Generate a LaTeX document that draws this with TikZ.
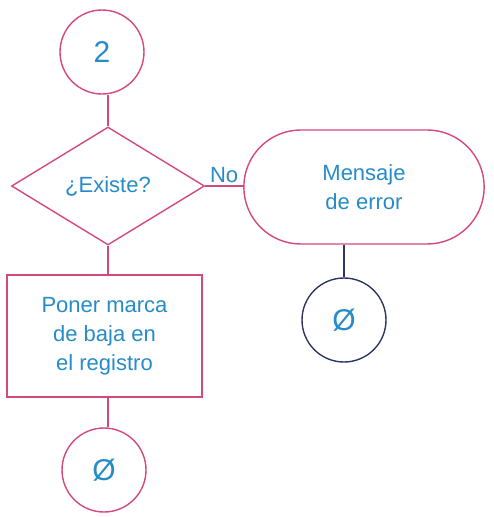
\documentclass[tikz,border=0pt]{standalone}
\usepackage{fontspec}
\setmainfont{Liberation Sans}
\usepackage{tikz}
\usetikzlibrary{shapes.geometric, shapes.misc, positioning}
\definecolor{flowpink}{RGB}{212,72,128}
\definecolor{flowblue}{RGB}{38,140,200}
\definecolor{flownavy}{RGB}{44,54,100}

\begin{document}
\begin{tikzpicture}[x=1pt, y=-1pt]
\tikzset{
    flowline/.style={draw=flowpink, line width=1.4pt},
    flowtext/.style={text=flowblue, font=\fontsize{22}{29}\selectfont, align=center},
    connector/.style={circle, flowline, flowtext, minimum size=84pt, inner sep=0pt, font=\fontsize{30}{32}\selectfont},
    decision/.style={diamond, flowline, flowtext, minimum width=193pt, minimum height=118pt, inner sep=0pt},
    process/.style={rectangle, flowline, flowtext, minimum width=195pt, minimum height=122pt},
    terminal/.style={rounded rectangle, flowline, flowtext, minimum width=247pt, minimum height=114pt}
}
\useasboundingbox (0,0) rectangle (493,517);

% Flow chart nodes
\node[connector] (start) at (102,52){2};
\node[decision] (exist) at (108,186){¿Existe?};
\node[terminal] (errmsg) at (364,187){Mensaje\\de error};
\node[connector, draw=flownavy] (enderr) at (344,320){Ø};
\node[process] (mark) at (104.5,336){Poner marca\\de baja en\\el registro};
\node[connector] (endmark) at (104,470){Ø};
 \draw[flowline](exist.north)--(exist.north |- start.south);
 \draw[flowline](exist.east)--(exist.east -| errmsg.west) node[midway, above, flowtext, inner sep=3pt]{No};
 \draw[flowline](exist.south)--(exist.south |- mark.north);
 \draw[flowline](mark.south -| exist.south)--(endmark.north -| exist.south);
 \draw[flownavy, line width=1.4pt](errmsg.south -| enderr.north)--(enderr.north);

\end{tikzpicture}
\end{document}
